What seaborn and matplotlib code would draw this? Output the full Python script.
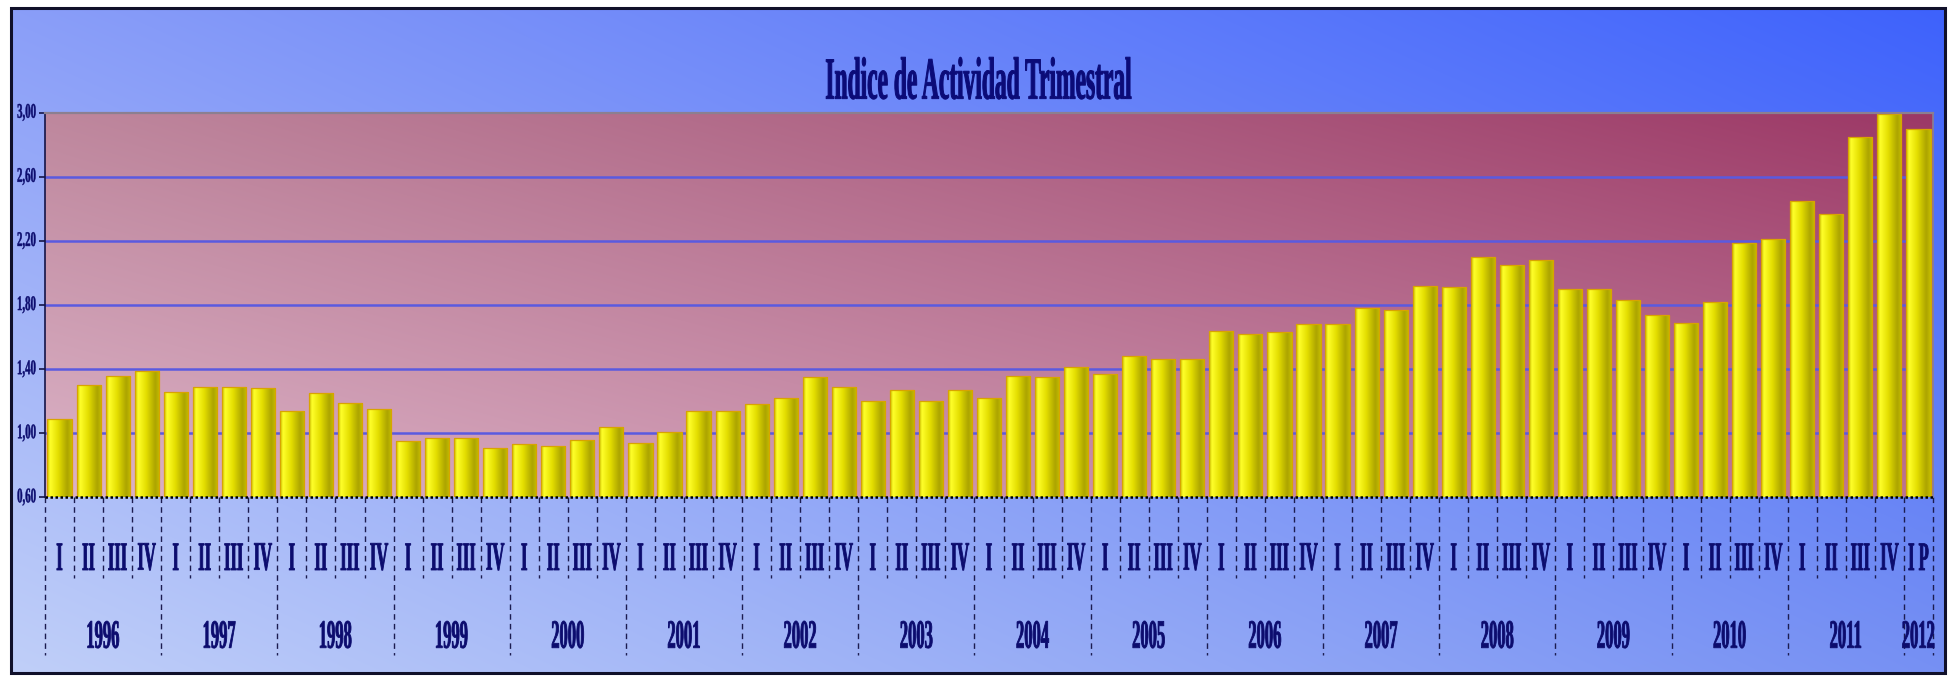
import numpy as np
import pandas as pd
import matplotlib
matplotlib.use("Agg")
import matplotlib.pyplot as plt
import seaborn as sns
from matplotlib.patheffects import AbstractPathEffect
from matplotlib.transforms import Affine2D, blended_transform_factory
from matplotlib.colors import to_rgb, LinearSegmentedColormap
from matplotlib.patches import Rectangle

# ---------------- data ----------------
title = "Indice de Actividad Trimestral"
years = ["1996", "1997", "1998", "1999", "2000", "2001", "2002", "2003",
         "2004", "2005", "2006", "2007", "2008", "2009", "2010", "2011", "2012"]
quarters = ["I", "II", "III", "IV"]
last_quarter = ["I P"]
values = [
    1.09, 1.30, 1.36, 1.39,   # 1996
    1.26, 1.29, 1.29, 1.28,   # 1997
    1.14, 1.25, 1.19, 1.15,   # 1998
    0.95, 0.97, 0.97, 0.91,   # 1999
    0.93, 0.92, 0.96, 1.04,   # 2000
    0.94, 1.01, 1.14, 1.14,   # 2001
    1.18, 1.22, 1.35, 1.29,   # 2002
    1.20, 1.27, 1.20, 1.27,   # 2003
    1.22, 1.36, 1.35, 1.41,   # 2004
    1.37, 1.48, 1.46, 1.46,   # 2005
    1.64, 1.62, 1.63, 1.68,   # 2006
    1.68, 1.78, 1.77, 1.92,   # 2007
    1.91, 2.10, 2.05, 2.08,   # 2008
    1.90, 1.90, 1.83, 1.74,   # 2009
    1.69, 1.82, 2.19, 2.21,   # 2010
    2.45, 2.37, 2.85, 2.99,   # 2011
    2.90,                     # 2012
]
yticks = [0.60, 1.00, 1.40, 1.80, 2.20, 2.60, 3.00]

quarter_labels = quarters * (len(years) - 1) + last_quarter
year_of_bar = [y for y in years[:-1] for _ in quarters] + [years[-1]] * len(last_quarter)
periods = [f"{y} {q}" for y, q in zip(year_of_bar, quarter_labels)]
df = pd.DataFrame({"periodo": periods, "indice": values})

# ---------------- helpers ----------------
class Stretch(AbstractPathEffect):
    """Draw text vertically stretched (tall narrow serif look), slightly emboldened."""
    def __init__(self, sy=2.4, anchor="bottom", lw=0.0):
        super().__init__()
        self.sy = sy
        self.anchor = anchor
        self.lw = lw

    def draw_path(self, renderer, gc, tpath, affine, rgbFace=None):
        ext = tpath.get_extents(affine)
        cy = ext.y0 if self.anchor == "bottom" else 0.5 * (ext.y0 + ext.y1)
        aff = affine + Affine2D().translate(0, -cy).scale(1, self.sy).translate(0, cy)
        gc0 = renderer.new_gc()
        gc0.copy_properties(gc)
        gc0.set_linewidth(self.lw)
        gc0.set_joinstyle("round")
        renderer.draw_path(gc0, tpath, aff, rgbFace)
        gc0.restore()


def corner_grad(tl, tr, bl, br, ny=150, nx=300):
    tl, tr, bl, br = (np.array(to_rgb(c)) for c in (tl, tr, bl, br))
    u = np.linspace(0, 1, nx)[None, :, None]
    v = np.linspace(0, 1, ny)[:, None, None]
    top = tl * (1 - u) + tr * u
    bot = bl * (1 - u) + br * u
    return top * (1 - v) + bot * v


FONT = "Liberation Serif"
NAVY = "#0c0c6e"

W, H = 1957, 679
CL, CT, CR, CB = 11, 8, 1945, 673          # chart area (pixels)
PL, PT, PR, PB = 45, 112.7, 1933, 497.3     # plot area (pixels)

fig = plt.figure(figsize=(W / 100, H / 100), dpi=100, facecolor="white")

# background layer in pixel coordinates
bg = fig.add_axes([0, 0, 1, 1], zorder=0)
bg.set_autoscale_on(False)
bg.axis("off")
bg.imshow(corner_grad("#8a9ef8", "#3e62fc", "#c0cff9", "#7690f3"),
          extent=[CL, CR, CB, CT], aspect="auto", interpolation="bilinear", zorder=0)
bg.imshow(corner_grad("#be879d", "#9c3866", "#dcb3c7", "#bb7394"),
          extent=[PL, PR, PB, PT], aspect="auto", interpolation="bilinear", zorder=1)
bg.add_patch(Rectangle((CL, CT), CR - CL, CB - CT, fill=False, ec="#10102a", lw=2.2, zorder=6))
bg.set_xlim(0, W)
bg.set_ylim(H, 0)

# main plot axes
ax = fig.add_axes([PL / W, 1 - PB / H, (PR - PL) / W, (PB - PT) / H], zorder=2)
ax.set_facecolor("none")

sns.barplot(data=df, x="periodo", y="indice", order=periods, color="#e8e800",
            saturation=1, width=0.83, errorbar=None, ax=ax, zorder=3,
            edgecolor="#d9a400", linewidth=0.9)

bar_cmap = LinearSegmentedColormap.from_list(
    "bar", [(0.0, "#c9c200"), (0.12, "#ffff2a"), (0.45, "#e4de00"),
            (0.82, "#aca400"), (1.0, "#c6be00")])
grad = np.linspace(0, 1, 64)[None, :]
for p in list(ax.patches):
    x0, w, h = p.get_x(), p.get_width(), p.get_height()
    im = ax.imshow(grad, cmap=bar_cmap, extent=[x0, x0 + w, yticks[0], h],
                   aspect="auto", interpolation="bilinear", zorder=3.1)
    im.set_clip_path(p)
    p.set_facecolor("none")
    p.set_zorder(3.2)

for t in yticks[1:-1]:
    ax.axhline(t, color="#5a5ae0", lw=1.8, zorder=1)
ax.axhline(yticks[-1], color="#8c7f90", lw=1.6, zorder=4, clip_on=False)
ax.axvline(len(values) - 0.5, color="#8c7f90", lw=1.2, zorder=4, clip_on=False)
ax.axhline(yticks[0], color="black", lw=1.8, ls=(0, (1, 1)), zorder=6, clip_on=False)

ax.set_xlim(-0.5, len(values) - 0.5)
ax.set_ylim(yticks[0], yticks[-1])
ax.set_xticks([])
ax.set_yticks(yticks)
ax.tick_params(axis="y", length=4, width=1.2, color="#141448", labelleft=False)
ax.set_xlabel("")
ax.set_ylabel("")
for s in ("top", "right", "bottom"):
    ax.spines[s].set_visible(False)
ax.spines["left"].set_color("#141448")
ax.spines["left"].set_linewidth(1.2)

# y tick labels (tall narrow serif)
ytrans = blended_transform_factory(bg.transData, ax.transData)
for t in yticks:
    bg.text(PL - 9, t, f"{t:.2f}".replace(".", ","), transform=ytrans,
            ha="right", va="center", fontsize=7.8, family=FONT, weight="bold",
            color=NAVY, path_effects=[Stretch(1.92, "center", 0.3)], zorder=7)

# category axis: dashed separators, quarter and year labels
xtrans = blended_transform_factory(ax.transData, bg.transData)
n = len(values)
for b in range(n + 1):
    long_line = (b % len(quarters) == 0) or (b == n)
    bg.plot([b - 0.5, b - 0.5], [PB, 655 if long_line else 578], transform=xtrans,
            color="#1c1c50", lw=1.0, ls=(0, (4, 3)), zorder=3)

for i, q in enumerate(quarter_labels):
    bg.text(i, 570, q, transform=xtrans, ha="center", va="baseline",
            fontsize=11.9, family=FONT, weight="bold", color=NAVY,
            path_effects=[Stretch(2.44, "bottom", 0.6)], zorder=7)

for y in years:
    idx = [i for i, yy in enumerate(year_of_bar) if yy == y]
    bg.text(np.mean(idx), 648, y, transform=xtrans, ha="center", va="baseline",
            fontsize=11.9, family=FONT, weight="bold", color=NAVY,
            path_effects=[Stretch(2.44, "bottom", 0.6)], zorder=7)

fig.text(0.5, 1 - 99 / H, title, ha="center", va="baseline", fontsize=16.9,
         family=FONT, weight="bold", color="#0b0b78",
         path_effects=[Stretch(2.545, "bottom", 0.7)])

fig.savefig("out.png", dpi=100, facecolor="white")
